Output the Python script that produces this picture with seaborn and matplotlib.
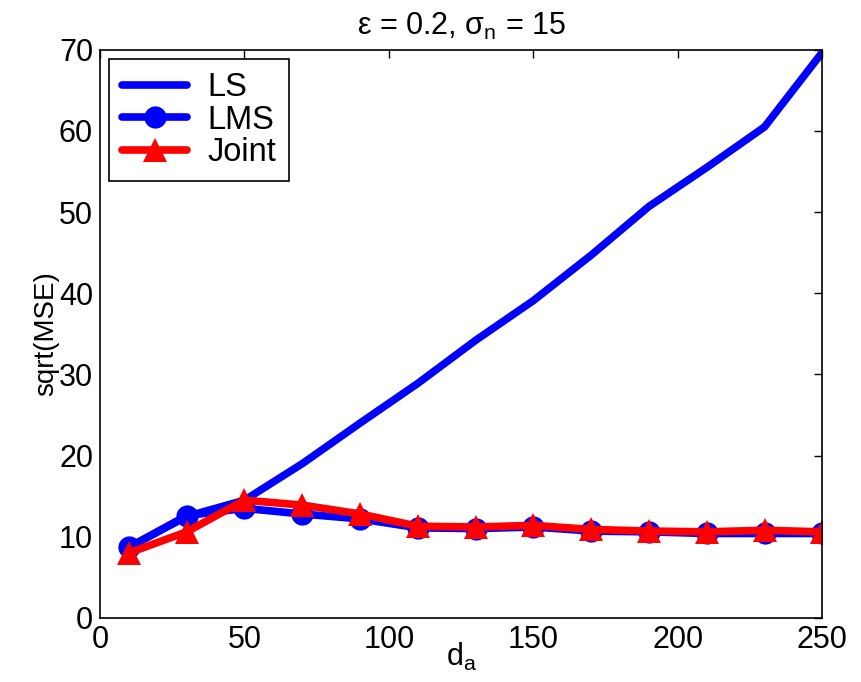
import pandas as pd
import seaborn as sns
from matplotlib import pyplot as plt

d_a = [10, 30, 50, 70, 90, 110, 130, 150, 170, 190, 210, 230, 250]
ls_vals = [8.7, 12.5, 14.5, 19.0, 24.0, 28.9, 34.2, 39.1, 44.7, 50.7, 55.5, 60.5, 69.7]
lms_vals = [8.7, 12.6, 13.5, 12.8, 12.2, 11.1, 11.0, 11.2, 10.7, 10.6, 10.4, 10.4, 10.4]
joint_vals = [8.0, 10.6, 14.5, 13.9, 12.8, 11.3, 11.2, 11.4, 10.9, 10.7, 10.6, 10.8, 10.6]

df = pd.DataFrame({'d_a': d_a, 'LS': ls_vals, 'LMS': lms_vals, 'Joint': joint_vals})

sns.set_style("white")
plt.rcParams['font.family'] = ['Liberation Sans', 'DejaVu Sans']
plt.rcParams['mathtext.fontset'] = 'custom'
plt.rcParams['mathtext.rm'] = 'Liberation Sans'
plt.rcParams['mathtext.it'] = 'Liberation Sans'
plt.rcParams['text.color'] = 'black'
plt.rcParams['axes.labelcolor'] = 'black'

fig = plt.figure(figsize=(8.62, 6.82), dpi=100)
ax = fig.add_axes([0.116, 0.094, 0.838, 0.833])

sns.lineplot(x='d_a', y='LS', data=df, ax=ax, color='#0000ff', linewidth=5.5,
             label='LS')
sns.lineplot(x='d_a', y='LMS', data=df, ax=ax, color='#0000ff', linewidth=5.5,
             marker='o', markersize=16, markeredgewidth=0, label='LMS')
sns.lineplot(x='d_a', y='Joint', data=df, ax=ax, color='#ff0000', linewidth=5.5,
             marker='^', markersize=17, markeredgewidth=0, label='Joint')

ax.set_xlim(0, 250)
ax.set_ylim(0, 70)
ax.set_xticks([0, 50, 100, 150, 200, 250])
ax.set_yticks(range(0, 71, 10))
ax.tick_params(direction='in', top=True, right=True, labelsize=22, length=6,
               width=1, colors='black', pad=5)
for s in ax.spines.values():
    s.set_linewidth(1.2)
    s.set_color('black')

ax.set_xlabel('d$_\\mathrm{a}$', fontsize=22, labelpad=-10)
ax.set_ylabel('sqrt(MSE)', fontsize=20, labelpad=0)
ax.set_title('ε = 0.2, σ$_\\mathrm{n}$ = 15', fontsize=22, pad=11)

leg = ax.legend(loc='upper left', fontsize=23.5, fancybox=False, framealpha=1,
                edgecolor='black', borderaxespad=0.28, handlelength=2.0,
                handletextpad=0.6, labelspacing=0.05, borderpad=0.4)
leg.get_frame().set_linewidth(1.2)

fig.savefig('out.png', dpi=100)
